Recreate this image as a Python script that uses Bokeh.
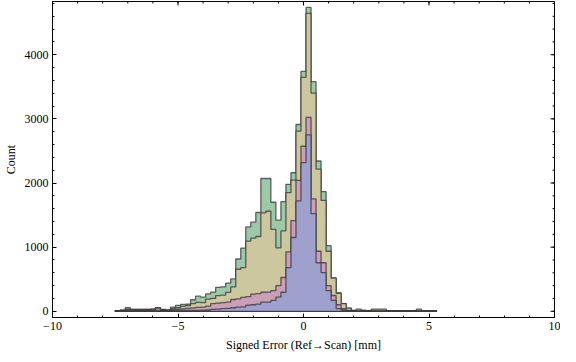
import math
from bokeh.plotting import figure
from bokeh.models import Range1d, FixedTicker, CustomJSTickFormatter
from bokeh.embed import file_html
from bokeh.resources import INLINE

# ---- data -------------------------------------------------------------
bin_edges = [round(-7.5 + 0.2 * i, 1) for i in range(65)]

green = [10, 20, 55, 30, 30, 30, 30, 35, 50, 30, 25, 66, 92, 107, 112, 180,
         235, 220, 270, 300, 373, 382, 440, 505, 815, 985, 1315, 1390, 1540,
         2070, 2070, 1700, 1420, 1710, 1980, 2160, 2912, 3740, 4737, 3580,
         2343, 1867, 1023, 520, 285, 120, 50, 15, 15, 12, 10, 15, 15, 15, 10,
         10, 8, 8, 8, 8, 15, 8, 6, 5]
olive = [8, 15, 30, 28, 28, 28, 28, 32, 55, 20, 5, 40, 55, 75, 90, 120,
         140, 135, 190, 200, 245, 252, 296, 380, 655, 680, 1095, 1140, 1166,
         1535, 1560, 1278, 990, 1255, 1850, 2046, 2808, 3647, 4645, 3402,
         2215, 1729, 936, 517, 281, 118, 50, 15, 35, 12, 10, 35, 35, 35, 10,
         10, 8, 8, 8, 8, 35, 8, 6, 5]
pink = [5, 10, 15, 18, 18, 18, 20, 22, 50, 15, 5, 25, 30, 38, 45, 52,
        60, 66, 80, 118, 128, 135, 142, 184, 192, 218, 228, 268, 275,
        297, 300, 322, 399, 527, 925, 1415, 2040, 2573, 3023, 1754,
        936, 757, 399, 246, 102, 40, 15, 5, 5, 5, 5, 5, 5, 5, 5,
        4, 4, 4, 4, 4, 5, 4, 4, 4]
blue = [3, 5, 6, 6, 6, 6, 8, 8, 12, 6, 3, 8, 10, 12, 14, 15,
        15, 16, 20, 30, 35, 41, 45, 55, 66, 70, 95, 102, 110,
        143, 143, 170, 220, 297, 680, 1150, 1720, 2317, 2752, 1524,
        757, 604, 322, 170, 41, 20, 8, 3, 3, 3, 3, 3, 3, 3, 3,
        3, 3, 3, 3, 3, 3, 3, 3, 3]

x_ticks = [-10, -5, 0, 5, 10]
x_minor = list(range(-10, 11))
y_ticks = [0, 1000, 2000, 3000, 4000]
y_minor = list(range(0, 4801, 200))

series = [(green, "#9dc9a9"), (olive, "#cdc7a0"), (pink, "#cc9fb9"), (blue, "#a0a0ce")]


def outline(edges, counts):
    xs = [edges[0]]
    ys = [0]
    for i, c in enumerate(counts):
        xs += [edges[i], edges[i + 1]]
        ys += [c, c]
    xs += [edges[-1]]
    ys += [0]
    return xs, ys


# ---- figure -----------------------------------------------------------
p = figure(width=560, height=354, output_backend="svg", toolbar_location=None,
           x_range=Range1d(-10, 10), y_range=Range1d(-97, 4830),
           min_border_left=42, min_border_right=6, min_border_top=1,
           min_border_bottom=0)
p.grid.visible = False
p.outline_line_color = "black"
p.outline_line_width = 1
p.background_fill_color = "white"

for counts, col in series:
    xs, ys = outline(bin_edges, counts)
    p.patch(xs, ys, fill_color=col, fill_alpha=1.0,
            line_color="#333333", line_alpha=0.75, line_width=1.3)

minus_fmt = CustomJSTickFormatter(
    code="return tick < 0 ? '\u2212' + Math.abs(tick) : tick.toString();")

FONT = "Liberation Serif"

xax = p.xaxis[0]
xax.ticker = FixedTicker(ticks=x_ticks, minor_ticks=x_minor)
xax.formatter = minus_fmt
xax.axis_label = "Signed Error (Ref\u2192Scan) [mm]"
xax.major_label_standoff = 4
xax.axis_label_standoff = 5

yax = p.yaxis[0]
yax.ticker = FixedTicker(ticks=y_ticks, minor_ticks=y_minor)
yax.axis_label = "Count"
yax.major_label_standoff = 4
yax.axis_label_standoff = 4

for ax in (xax, yax):
    ax.major_label_text_font = FONT
    ax.major_label_text_font_size = "12px"
    ax.major_label_text_color = "black"
    ax.major_label_text_line_height = 1.0
    ax.axis_label_text_font = FONT
    ax.axis_label_text_font_size = "12px"
    ax.axis_label_text_font_style = "normal"
    ax.axis_label_text_color = "black"
    ax.axis_label_text_line_height = 1.0
    ax.major_tick_in = 4
    ax.major_tick_out = 0
    ax.minor_tick_in = 2
    ax.minor_tick_out = 0
    ax.axis_line_color = "black"
    ax.major_tick_line_color = "black"
    ax.minor_tick_line_color = "black"

# mirrored inward tick marks on the top and right frame edges
top_y = p.y_range.end
right_x = p.x_range.end
p.ray(x=x_minor, y=[top_y] * len(x_minor), length=2, length_units="screen",
      angle=-math.pi / 2, line_color="black", line_width=1)
p.ray(x=x_ticks, y=[top_y] * len(x_ticks), length=4, length_units="screen",
      angle=-math.pi / 2, line_color="black", line_width=1)
p.ray(x=[right_x] * len(y_minor), y=y_minor, length=2, length_units="screen",
      angle=math.pi, line_color="black", line_width=1)
p.ray(x=[right_x] * len(y_ticks), y=y_ticks, length=4, length_units="screen",
      angle=math.pi, line_color="black", line_width=1)

open("out.html", "w").write(file_html(p, INLINE))
